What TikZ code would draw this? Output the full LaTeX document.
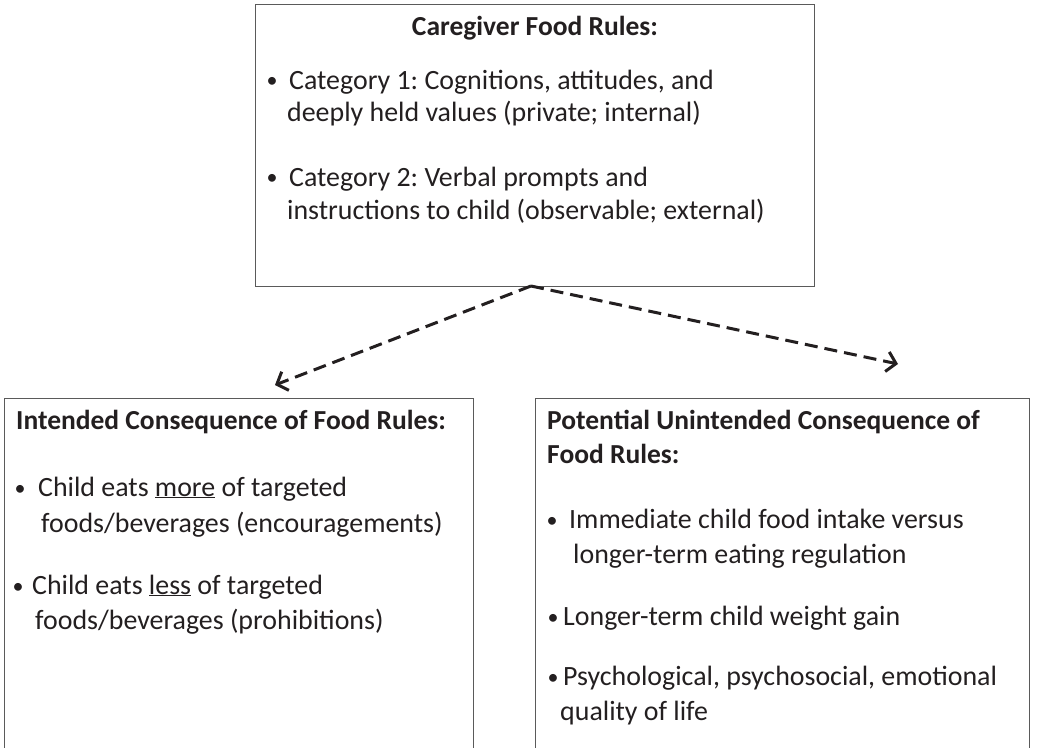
\documentclass[tikz,border=0pt]{standalone}
\usepackage{fontspec}
\setmainfont{Carlito}
\usetikzlibrary{arrows.meta}
\definecolor{textcol}{HTML}{231F20}
\definecolor{boxgray}{HTML}{5A5A5A}
\frenchspacing
\begin{document}
\begin{tikzpicture}[x=1pt,y=-1pt,
  boxline/.style={draw=boxgray, line width=1.4pt, anchor=north west, inner sep=0pt},
  txt/.style={anchor=base west, inner sep=0pt, text=textcol, font=\fontsize{27.9}{33}\selectfont},
  ttl/.style={txt, font=\fontsize{27.5}{33}\selectfont\bfseries},
  bul/.style={anchor=base, inner sep=0pt, text=textcol, font=\fontsize{22}{22}\selectfont},
  dasharrow/.style={draw=textcol, line width=3pt, dash pattern=on 13pt off 7pt,
    -{Straight Barb[length=9pt,width=20pt,line width=3pt]}}]
\useasboundingbox (0,0) rectangle (1046,747);
\clip (0,0) rectangle (1046,747);
% boxes
\node[boxline, minimum width=559pt, minimum height=282pt] (topbox) at (255,4) {};
\node[boxline, minimum width=469pt, minimum height=400pt] (leftbox) at (4,398) {};
\node[boxline, minimum width=494pt, minimum height=400pt] (rightbox) at (535,398) {};
% top box text
\node[ttl, anchor=base] (toptitle) at (535,35) {Caregiver Food Rules:};
\node[bul] (tb1) at (272,87) {•};
\node[txt] (t1a) at (289,89) {Category 1: Cognitions, attitudes, and};
\node[txt] (t1b) at (287,121) {deeply held values (private; internal)};
\node[bul] (tb2) at (272,184) {•};
\node[txt] (t2a) at (289,186) {Category 2: Verbal prompts and};
\node[txt] (t2b) at (287,219) {instructions to child (observable; external)};
% left box text
\node[ttl] (lefttitle) at (16,429) {Intended Consequence of Food Rules:};
\node[bul] (lb1) at (20,495) {•};
\node[txt] (l1a) at (38,496) {Child eats \underline{more} of targeted};
\node[txt] (l1b) at (41,532) {foods/beverages (encouragements)};
\node[bul] (lb2) at (18,593) {•};
\node[txt] (l2a) at (32,594) {Child eats \underline{less} of targeted};
\node[txt] (l2b) at (35,629) {foods/beverages (prohibitions)};
% right box text
\node[ttl] (righttitlea) at (547,429) {Potential Unintended Consequence of};
\node[ttl] (righttitleb) at (547,463) {Food Rules:};
\node[bul] (rb1) at (552,527) {•};
\node[txt] (r1a) at (569,528) {Immediate child food intake versus};
\node[txt] (r1b) at (573,563) {longer-term eating regulation};
\node[bul] (rb2) at (553,624) {•};
\node[txt] (r2a) at (563,625) {Longer-term child weight gain};
\node[bul] (rb3) at (553,684) {•};
\node[txt] (r3a) at (563,685) {Psychological, psychosocial, emotional};
\node[txt] (r3b) at (560,720) {quality of life};
% arrows
\coordinate (apex) at (531,286);
\coordinate (lefttip) at (275,385);
\coordinate (righttip) at (898,364);
\draw[dasharrow] (apex) -- (lefttip);
\draw[dasharrow] (apex) -- (righttip);
\end{tikzpicture}
\end{document}
